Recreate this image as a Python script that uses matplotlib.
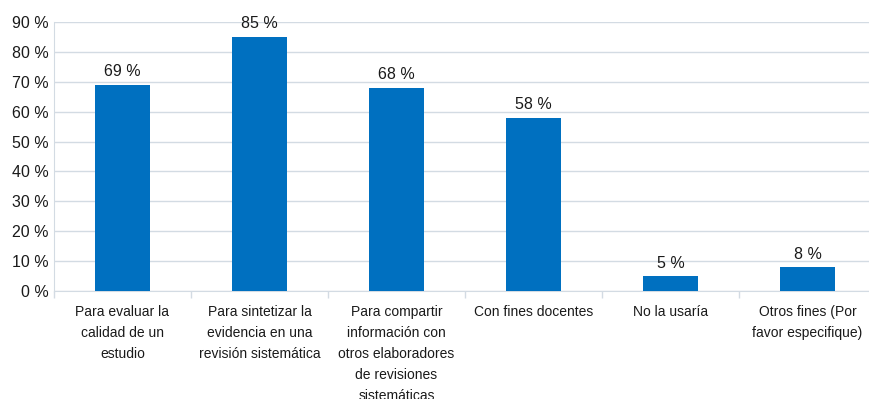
import matplotlib
matplotlib.use("Agg")
import matplotlib.pyplot as plt
from matplotlib.ticker import FixedLocator

categories = [
    "Para evaluar la\ncalidad de un\nestudio",
    "Para sintetizar la\nevidencia en una\nrevisión sistemática",
    "Para compartir\ninformación con\notros elaboradores\nde revisiones\nsistemáticas",
    "Con fines docentes",
    "No la usaría",
    "Otros fines (Por\nfavor especifique)",
]
values = [69, 85, 68, 58, 5, 8]
value_labels = ["69 %", "85 %", "68 %", "58 %", "5 %", "8 %"]
yticks = [0, 10, 20, 30, 40, 50, 60, 70, 80, 90]
ytick_labels = [f"{v} %" for v in yticks]

plt.rcParams['font.family'] = ['Liberation Sans', 'DejaVu Sans']

W, H = 870, 399
fig = plt.figure(figsize=(W / 100, H / 100), dpi=100)
left, right, bottom, top = 54, 876, 291, 22
ax = fig.add_axes([left / W, (H - bottom) / H, (right - left) / W, (bottom - top) / H])

grid_color = "#d3dbe3"
text_color = "#1a1a1a"
x = list(range(len(categories)))
bars = ax.bar(x, values, width=0.4, color="#0070c0", zorder=3)
ax.bar_label(bars, labels=value_labels, padding=4, fontsize=11.5, color=text_color)

ax.set_xlim(-0.5, len(categories) - 0.5)
ax.set_ylim(0, 90)
ax.set_yticks(yticks)
ax.set_yticklabels(ytick_labels, fontsize=11.5, color=text_color)
ax.yaxis.grid(True, color=grid_color, linewidth=1, zorder=0)
ax.tick_params(axis="y", length=0, pad=4)

ax.set_xticks(x)
ax.set_xticklabels(categories, fontsize=10, color=text_color, linespacing=1.65)
ax.xaxis.set_minor_locator(FixedLocator([i - 0.5 for i in range(len(categories) + 1)]))
ax.tick_params(axis="x", which="major", length=0, pad=10)
ax.tick_params(axis="x", which="minor", length=5, color=grid_color, width=1)

for s in ["top", "right"]:
    ax.spines[s].set_visible(False)
ax.spines["left"].set_color(grid_color)
ax.spines["bottom"].set_color(grid_color)

fig.savefig("out.png", dpi=100)
